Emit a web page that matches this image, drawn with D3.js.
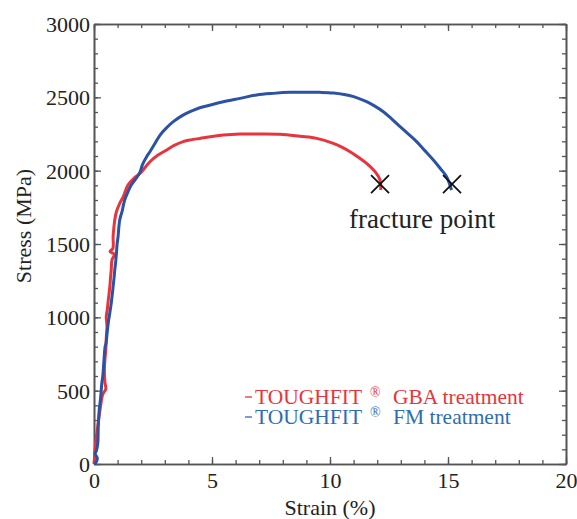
<!DOCTYPE html>
<html><head><meta charset="utf-8">
<script src="https://cdn.jsdelivr.net/npm/d3@7"></script>
<style>body{margin:0;background:#fff}svg{display:block}</style>
</head><body><svg id="c" width="577" height="519"></svg>
<script>
// ---- data (strain %, stress MPa) ----
const gbaStrain = [0,0.02,0.04,0.1,0.16,0.22,0.3,0.36,0.42,0.5,0.46,0.44,0.46,0.5,0.52,0.55,0.52,0.57,0.59,0.63,0.67,0.7,0.73,0.76,0.86,0.68,0.8,0.81,0.84,0.88,0.95,1.09,1.24,1.44,1.7,1.86,2.0,2.37,2.7,3.08,3.4,3.78,4.1,4.49,5.0,5.48,6.19,7.03,7.88,8.73,9.44,10.14,10.5,10.85,11.2,11.55,11.91,12.12,12.15];
const gbaStress = [0,40,95,180,260,330,420,470,490,510,560,640,709,780,860,940,1005,1060,1095,1150,1209,1270,1323,1390,1430,1448,1470,1550,1610,1664,1720,1777,1823,1902,1950,1970,1990,2061,2105,2141,2172,2198,2210,2220,2233,2243,2250,2250,2248,2234,2220,2186,2160,2129,2092,2050,1993,1936,1868];
const fmStrain = [0,0.08,0.14,0.05,0.1,0.16,0.18,0.22,0.28,0.33,0.37,0.42,0.47,0.51,0.56,0.62,0.67,0.73,0.77,0.81,0.85,0.88,0.92,0.95,0.98,1.02,1.05,1.09,1.2,1.3,1.45,1.58,1.8,1.95,2.05,2.23,2.37,2.6,2.8,3.06,3.36,3.7,4.07,4.4,4.77,5.48,6.19,6.89,7.6,8.31,9.0,9.58,10.14,10.6,11.0,11.55,11.9,12.26,12.6,12.97,13.3,13.67,14.0,14.38,14.7,14.94,15.15];
const fmStress = [0,10,40,70,90,141,250,368,450,550,595,700,800,823,900,980,1030,1095,1150,1209,1270,1323,1380,1436,1500,1550,1610,1664,1730,1800,1860,1902,1950,1990,2040,2095,2129,2190,2243,2290,2334,2372,2402,2424,2441,2470,2493,2516,2527,2534,2535,2534,2530,2520,2505,2470,2440,2402,2355,2300,2252,2198,2140,2073,2010,1959,1868];
const fracturePoints = [[12.12,1909],[15.17,1909]];
const xTicks = [0,5,10,15,20];
const yTicks = [0,500,1000,1500,2000,2500,3000];
const legendNames = ["GBA treatment","FM treatment"];

const FONT = "'Liberation Serif', 'Times New Roman', Tinos, 'DejaVu Serif', serif";
const red = "#e8343c", blue = "#2c52a5", blueText = "#2e6db4", axisCol = "#555";
const svg = d3.select("#c");
const x = d3.scaleLinear().domain([0,20]).range([94,566]);
const y = d3.scaleLinear().domain([0,3000]).range([464,24]);

function mk(axisFn, scale, ticks, size, labels){
  const a = axisFn(scale).tickValues(ticks).tickSizeInner(-size).tickSizeOuter(0);
  a.tickFormat(labels ? d3.format("d") : "");
  return a;
}
const xMinor = d3.range(0,21,1), yMinor = d3.range(0,3001,100);
svg.append("g").attr("transform","translate(0,464)").call(mk(d3.axisBottom,x,xMinor,4,false));
const gb2 = svg.append("g").attr("transform","translate(0,464)").call(mk(d3.axisBottom,x,xTicks,7,true));
svg.append("g").attr("transform","translate(0,24)").call(mk(d3.axisTop,x,xMinor,4,false));
svg.append("g").attr("transform","translate(0,24)").call(mk(d3.axisTop,x,xTicks,7,false));
svg.append("g").attr("transform","translate(94,0)").call(mk(d3.axisLeft,y,yMinor,4,false));
const gl2 = svg.append("g").attr("transform","translate(94,0)").call(mk(d3.axisLeft,y,yTicks,7,true));
svg.append("g").attr("transform","translate(566,0)").call(mk(d3.axisRight,y,yMinor,4,false));
svg.append("g").attr("transform","translate(566,0)").call(mk(d3.axisRight,y,yTicks,7,false));
svg.selectAll(".domain").attr("stroke",axisCol).attr("stroke-width",1.6);
svg.selectAll(".tick line").attr("stroke",axisCol).attr("stroke-width",1.3);
svg.selectAll(".tick text").attr("fill","#222").style("font-size","22px");
gb2.selectAll(".tick text").attr("y",8).attr("dy","0.71em");
gl2.selectAll(".tick text").attr("x",-4).attr("dy","0.34em");

// curves
const line = d3.line().x(d=>x(d[0])).y(d=>y(d[1])).curve(d3.curveCatmullRom.alpha(0.5));
const gba = gbaStrain.map((s,i)=>[s,gbaStress[i]]);
const fm = fmStrain.map((s,i)=>[s,fmStress[i]]);
svg.append("path").datum(gba).attr("d",line).attr("fill","none").attr("stroke",red).attr("stroke-width",3).attr("stroke-linejoin","round");
svg.append("path").datum(fm).attr("d",line).attr("fill","none").attr("stroke",blue).attr("stroke-width",3).attr("stroke-linejoin","round");

// fracture markers
fracturePoints.forEach(p=>{
  const cx=x(p[0]), cy=y(p[1]), r=9;
  svg.append("path").attr("d",`M${cx-r},${cy-r}L${cx+r},${cy+r}M${cx-r},${cy+r}L${cx+r},${cy-r}`)
    .attr("stroke","#111").attr("stroke-width",1.8).attr("fill","none");
});
svg.append("text").attr("x",349).attr("y",228).attr("fill","#222").style("font-size","27px").text("fracture point");

// legend
[[red,red,397,404],[blue,blueText,417,424]].forEach((c,i)=>{
  svg.append("line").attr("x1",245).attr("x2",252).attr("y1",c[2]).attr("y2",c[2]).attr("stroke",c[1]).attr("stroke-width",1.3);
  svg.append("text").attr("x",255).attr("y",c[3]).attr("fill",c[1]).style("font-size","21.5px").text("TOUGHFIT");
  svg.append("text").attr("x",370).attr("y",c[3]-7).attr("fill",c[1]).style("font-size","14px").text("®");
  svg.append("text").attr("x",393).attr("y",c[3]).attr("fill",c[1]).style("font-size","21.5px").text(legendNames[i]);
});

// axis labels
svg.append("text").attr("x",330).attr("y",515).attr("text-anchor","middle").attr("fill","#222").style("font-size","22px").text("Strain (%)");
svg.append("text").attr("transform","translate(31,226) rotate(-90)").attr("text-anchor","middle").attr("fill","#222").style("font-size","22px").text("Stress (MPa)");

svg.selectAll("g").attr("font-family", FONT);
svg.selectAll("text").attr("font-family", FONT).style("font-family", FONT);
</script></body></html>
